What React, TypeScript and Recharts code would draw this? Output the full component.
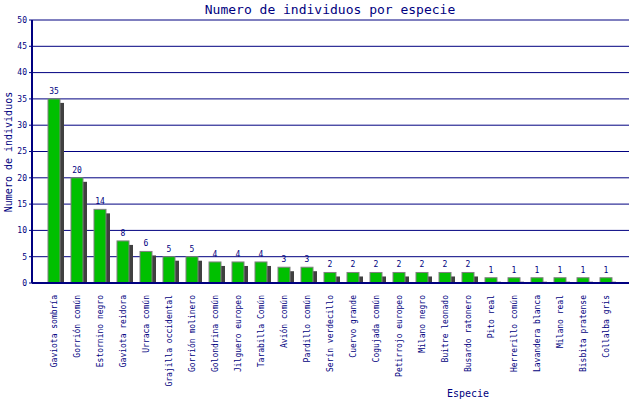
import React from 'react';
import { BarChart, Bar, XAxis, YAxis, CartesianGrid, LabelList } from 'recharts';

const species = [
  'Gaviota sombría',
  'Gorrión común',
  'Estornino negro',
  'Gaviota reidora',
  'Urraca común',
  'Grajilla occidental',
  'Gorrión molinero',
  'Golondrina común',
  'Jilguero europeo',
  'Tarabilla Común',
  'Avión común',
  'Pardillo común',
  'Serín verdecillo',
  'Cuervo grande',
  'Cogujada común',
  'Petirrojo europeo',
  'Milano negro',
  'Buitre leonado',
  'Busardo ratonero',
  'Pito real',
  'Herrerillo común',
  'Lavandera blanca',
  'Milano real',
  'Bisbita pratense',
  'Collalba gris',
];

const counts = [35, 20, 14, 8, 6, 5, 5, 4, 4, 4, 3, 3, 2, 2, 2, 2, 2, 2, 2, 1, 1, 1, 1, 1, 1];

const yTicks = [0, 5, 10, 15, 20, 25, 30, 35, 40, 45, 50];

const data = species.map((name, i) => ({ name, value: counts[i] }));

const NAVY = '#000080';
const FONT = '"DejaVu Sans Mono", monospace';

// bar with a dark drop shadow behind it, offset right and down
const ShadowBar = (props: any) => {
  const { x, y, width, height } = props;
  if (!height || height <= 0) return null;
  const sh = Math.max(height - 4, 0);
  return (
    <g>
      <rect x={x + 4} y={y + 4} width={width} height={sh} fill="#404040" />
      <rect x={x} y={y} width={width} height={height} fill="#00c000" stroke="#808080" strokeWidth={1} />
    </g>
  );
};

const SpeciesTick = (props: any) => {
  const { x, y, payload } = props;
  return (
    <text
      x={0}
      y={0}
      transform={`translate(${x + 3},${y + 4}) rotate(-90)`}
      textAnchor="end"
      fill={NAVY}
      fontSize={8}
      fontFamily={FONT}
    >
      {payload.value}
    </text>
  );
};

export default function App() {
  return (
    <div style={{ position: 'absolute', left: 0, top: 0, background: '#fff' }}>
      <svg width={640} height={400} style={{ position: 'absolute', left: 0, top: 0, pointerEvents: 'none' }}>
        <text x={330} y={14} textAnchor="middle" fill={NAVY} fontSize={13} fontFamily={FONT}>
          Numero de individuos por especie
        </text>
        <text
          x={0}
          y={0}
          transform="translate(12,152) rotate(-90)"
          textAnchor="middle"
          fill={NAVY}
          fontSize={10}
          fontFamily={FONT}
        >
          Numero de individuos
        </text>
        <text x={468} y={397} textAnchor="middle" fill={NAVY} fontSize={10} fontFamily={FONT}>
          Especie
        </text>
      </svg>
      <BarChart
        width={640}
        height={400}
        data={data}
        margin={{ top: 20, right: 11, bottom: 0, left: 0 }}
        barSize={12}
      >
        <CartesianGrid vertical={false} stroke={NAVY} strokeWidth={1} />
        <XAxis
          dataKey="name"
          interval={0}
          height={117}
          tick={<SpeciesTick />}
          tickLine={false}
          axisLine={{ stroke: NAVY, strokeWidth: 2 }}
          padding={{ left: 10, right: 12 }}
        />
        <YAxis
          width={32}
          domain={[0, 50]}
          ticks={yTicks}
          interval={0}
          tick={{ fill: NAVY, fontSize: 8, fontFamily: FONT }}
          tickLine={{ stroke: NAVY }}
          tickSize={3}
          tickMargin={2}
          axisLine={{ stroke: NAVY, strokeWidth: 2 }}
        />
        <YAxis
          yAxisId="right"
          orientation="right"
          width={0}
          tick={false}
          tickLine={false}
          axisLine={{ stroke: NAVY, strokeWidth: 2 }}
        />
        <Bar dataKey="value" shape={<ShadowBar />} isAnimationActive={false}>
          <LabelList dataKey="value" position="top" offset={5} fill={NAVY} fontSize={8} fontFamily={FONT} />
        </Bar>
      </BarChart>
    </div>
  );
}
